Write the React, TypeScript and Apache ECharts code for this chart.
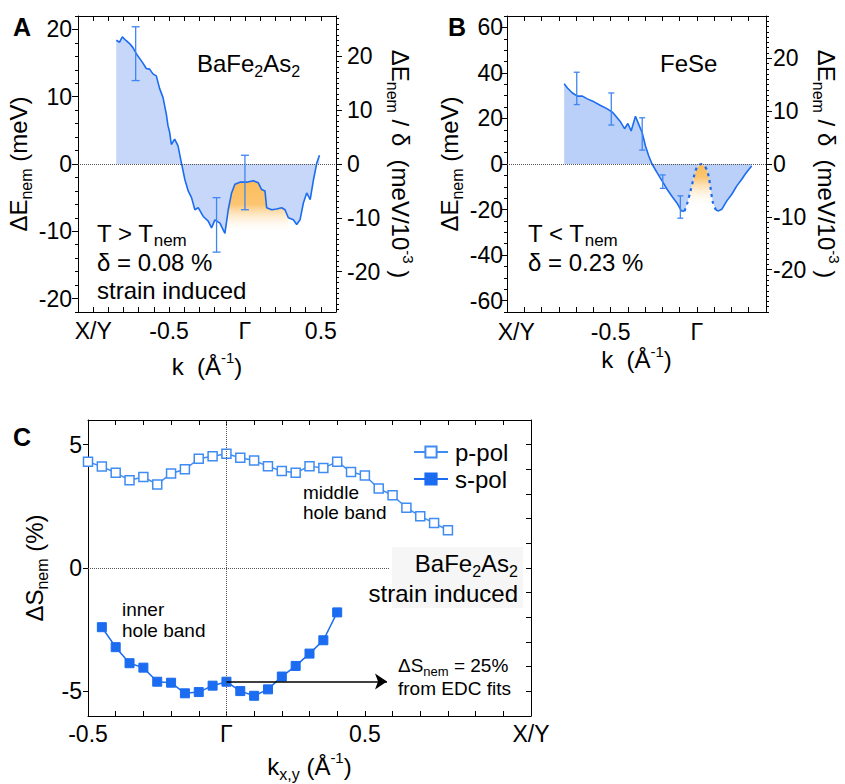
import React, { useEffect, useRef } from 'react';
import * as echarts from 'echarts';

// ---------- Panel A: BaFe2As2, T > Tnem, strain induced ----------
const aK = [-0.848,-0.826,-0.808,-0.786,-0.760,-0.738,-0.716,-0.694,-0.672,-0.650,-0.628,-0.606,-0.584,-0.562,-0.540,-0.518,-0.507,-0.496,-0.485,-0.463,-0.441,-0.419,-0.396,-0.374,-0.352,-0.330,-0.308,-0.275,-0.242,-0.220,-0.198,-0.165,-0.132,-0.110,-0.088,-0.066,-0.033,0.011,0.055,0.088,0.110,0.132,0.143,0.176,0.209,0.242,0.264,0.286,0.319,0.341,0.363,0.385,0.407,0.430,0.452,0.474,0.491];
const aVal = [18.4,18.1,18.9,18.4,17.9,17.3,16.4,15.7,15.0,14.2,14.1,13.4,13.1,11.2,9.9,7.4,5.7,4.7,2.9,3.7,2.7,0.2,-2.3,-4.0,-5.0,-6.8,-6.5,-7.8,-8.5,-9.5,-8.3,-8.8,-10.3,-6.8,-4.3,-3.0,-2.7,-2.7,-2.5,-2.8,-3.8,-4.0,-6.5,-6.8,-6.7,-6.5,-6.8,-8.0,-8.3,-9.0,-8.3,-5.8,-4.3,-5.3,-2.3,0.2,1.3];
const aErrK = [-0.72, -0.187, 0.0];
const aErrHi = [20.4, -5.0, 1.3];
const aErrLo = [12.4, -13.1, -6.8];
const aOrangeFrom = -0.132;
const aOrangeTo = 0.286;
const aOrangeFloor = -10;

// ---------- Panel B: FeSe, T < Tnem ----------
const bK = [-0.769,-0.750,-0.721,-0.692,-0.663,-0.635,-0.596,-0.558,-0.519,-0.490,-0.462,-0.442,-0.419,-0.400,-0.381,-0.356,-0.337,-0.317,-0.298,-0.279,-0.260,-0.231,-0.202,-0.173,-0.144,-0.115,-0.090,-0.072,-0.055,-0.039,-0.025,-0.016,0.000,0.026,0.045,0.058,0.068,0.077,0.092,0.110,0.125,0.144,0.173,0.202,0.231,0.260,0.279,0.298,0.317];
const bVal = [35.2,33.4,31.2,29.8,29.8,28.6,27.3,25.7,24.2,22.8,20.3,18.4,15.5,17.8,14.5,21.0,17.4,13.7,7.9,3.5,0.0,-3.8,-7.4,-11.1,-14.3,-17.2,-20.6,-20.7,-17.0,-12.4,-8.0,-5.1,-1.5,0.0,-1.0,-2.6,-5.5,-9.5,-16.8,-20.2,-20.6,-19.9,-16.2,-13.3,-9.6,-6.7,-4.5,-2.6,-0.9];
const bDashFrom = -0.072;
const bDashTo = 0.110;
const bErrK = [-0.696, -0.496, -0.317, -0.198, -0.096];
const bErrHi = [40.3, 31.2, 20.3, -4.8, -14.0];
const bErrLo = [26.1, 17.1, 6.1, -10.7, -23.8];
const bOrangeFrom = -0.055;
const bOrangeTo = 0.092;
const bOrangeFloor = -19;

// ---------- Panel C: ΔS_nem ----------
const pK = [-0.5,-0.45,-0.4,-0.35,-0.3,-0.25,-0.2,-0.15,-0.1,-0.05,0,0.05,0.1,0.15,0.2,0.25,0.3,0.35,0.4,0.45,0.5,0.55,0.6,0.65,0.7,0.75,0.8];
const pVal = [4.31,4.11,3.86,3.56,3.69,3.39,3.83,4.0,4.43,4.53,4.63,4.47,4.36,4.12,3.93,3.86,4.13,4.05,4.31,3.89,3.75,3.22,2.95,2.44,2.1,1.82,1.53];
const sK = [-0.45,-0.4,-0.35,-0.3,-0.25,-0.2,-0.15,-0.1,-0.05,0,0.05,0.1,0.15,0.2,0.25,0.3,0.35,0.4];
const sVal = [-2.40,-3.21,-3.86,-4.04,-4.61,-4.65,-5.08,-5.03,-4.77,-4.61,-4.99,-5.18,-4.92,-4.40,-3.97,-3.47,-2.93,-1.80];
const arrowY = -4.6;
const arrowFrom = 0;
const arrowTo = 0.58;
const cZeroLineEnd = 0.59;

// tick label sets
const aXLabels = [-1, -0.5, 0, 0.5];
const bXLabels = [-1, -0.5, 0];
const cXLabels = [-0.5, 0, 0.5, 1.1];
const aYLabels = [-20, -10, 0, 10, 20];
const aY2Labels = [-20, -10, 0, 10, 20];
const bYLabels = [-60, -40, -20, 0, 20, 40, 60];
const bY2Labels = [-20, -10, 0, 10, 20];
const cYLabels = [-5, 0, 5];

const FONT = '"Liberation Sans", Arial, Helvetica, sans-serif';
const BLUE = '#1b6cf0';
const PBLUE = '#3f8cf3';
const ERRC = '#3f86f0';
const FILL_A = '#c6d7fa';
const FILL_B = '#bad0f9';

const near = (a: number, b: number) => Math.abs(a - b) < 1e-6;
const kLabel = (v: number) => {
  if (near(v, -1) || near(v, 1.1)) return 'X/Y';
  if (near(v, -0.5)) return '-0.5';
  if (near(v, 0)) return 'Γ';
  if (near(v, 0.5)) return '0.5';
  return '';
};
const intRange = (a: number, b: number) => {
  const r: number[] = [];
  for (let v = a; v <= b; v++) r.push(v);
  return r;
};

const pairs = (ks: number[], vs: number[]) => ks.map((k, i) => [k, vs[i]]);

function errRender(cap: number) {
  return (params: any, api: any) => {
    const k = api.value(0);
    const lo = api.value(1);
    const hi = api.value(2);
    const t = api.coord([k, hi]);
    const b = api.coord([k, lo]);
    const style = { stroke: ERRC, lineWidth: 1.3, fill: 'none' };
    return {
      type: 'group',
      children: [
        { type: 'line', shape: { x1: t[0], y1: t[1], x2: b[0], y2: b[1] }, style },
        { type: 'line', shape: { x1: t[0] - cap, y1: t[1], x2: t[0] + cap, y2: t[1] }, style },
        { type: 'line', shape: { x1: b[0] - cap, y1: b[1], x2: b[0] + cap, y2: b[1] }, style },
      ],
    };
  };
}

function orangeRender(ks: number[], vs: number[], from: number, to: number, floor: number, solidStop: number) {
  return (params: any, api: any) => {
    const pts: number[][] = [];
    let first = NaN;
    let last = NaN;
    for (let i = 0; i < ks.length; i++) {
      if (ks[i] >= from - 1e-9 && ks[i] <= to + 1e-9) {
        pts.push(api.coord([ks[i], vs[i]]));
        if (isNaN(first)) first = ks[i];
        last = ks[i];
      }
    }
    pts.push(api.coord([last, floor]));
    pts.push(api.coord([first, floor]));
    return {
      type: 'polygon',
      shape: { points: pts },
      style: {
        fill: new echarts.graphic.LinearGradient(0, 0, 0, 1, [
          { offset: 0, color: 'rgba(252,188,90,1)' },
          { offset: solidStop, color: 'rgba(252,194,105,0.95)' },
          { offset: 1, color: 'rgba(255,255,255,0)' },
        ]),
      },
    };
  };
}

const tickFont = { fontSize: 23, fontFamily: FONT, color: '#000' };
const nameStyle = {
  fontSize: 24,
  fontFamily: FONT,
  color: '#000',
  lineHeight: 32,
  rich: {
    sub: { fontSize: 16, lineHeight: 16, verticalAlign: 'bottom', fontFamily: FONT, color: '#000' },
    sup: { fontSize: 15, lineHeight: 18, verticalAlign: 'top', fontFamily: FONT, color: '#000' },
  },
};
const axLine = { show: true, onZero: false, lineStyle: { color: '#000', width: 1 } };
const noLine = { show: false, onZero: false };

function xBottom(grid: number, min: number, max: number, labels: number[], name: string, nameGap: number, margin: number, extraRich?: any, fmt?: any) {
  return {
    type: 'value', gridIndex: grid, position: 'bottom', min, max, interval: 0.1,
    axisLine: axLine,
    axisTick: { show: true, inside: true, length: 5, lineStyle: { color: '#000' } },
    axisLabel: {
      show: true, customValues: labels, margin, ...tickFont,
      showMinLabel: true, showMaxLabel: true,
      formatter: fmt || kLabel,
      rich: extraRich,
    },
    splitLine: { show: false },
    name, nameLocation: 'middle', nameGap, nameTextStyle: nameStyle,
  };
}
function xTop(grid: number, min: number, max: number) {
  return {
    type: 'value', gridIndex: grid, position: 'top', min, max, interval: 0.1,
    axisLine: axLine,
    axisTick: { show: true, inside: true, length: 5, lineStyle: { color: '#000' } },
    axisLabel: { show: false },
    splitLine: { show: false },
  };
}

export default function App() {
  const ref = useRef<HTMLDivElement>(null);
  useEffect(() => {
    if (!ref.current) return;
    const chart = echarts.init(ref.current, undefined, { renderer: 'svg' });

    const bSolid = bK.map((k, i) => (k <= bDashFrom + 1e-9 || k >= bDashTo - 1e-9 ? [k, bVal[i]] : [k, '-']));
    const bDash = bK.map((k, i) => (k >= bDashFrom - 1e-9 && k <= bDashTo + 1e-9 ? [k, bVal[i]] : [k, '-']));

    const zeroMark = () => ({
      silent: true, symbol: ['none', 'none'], label: { show: false },
      lineStyle: { type: 'dotted', color: '#555', width: 1 },
      emphasis: { disabled: true },
      data: [{ yAxis: 0 }],
    });

    const option: any = {
      animation: false,
      backgroundColor: '#ffffff',
      textStyle: { fontFamily: FONT },
      grid: [
        { left: 78, top: 16, width: 258, height: 296 },
        { left: 507, top: 16, width: 259, height: 296 },
        { left: 88, top: 420, width: 443, height: 296 },
      ],
      xAxis: [
        xBottom(0, -1.1, 0.6, aXLabels, 'k  (Å{sup|-1})', 38, 7),
        xTop(0, -1.1, 0.6),
        xBottom(1, -1.1, 0.4, bXLabels, 'k  (Å{sup|-1})', 31, 8,
          { xy: { padding: [0, 16, 0, 0], fontSize: 23, fontFamily: FONT, color: '#000' } },
          (v: number) => (near(v, -1) ? '{xy|X/Y}' : kLabel(v))),
        xTop(1, -1.1, 0.4),
        xBottom(2, -0.5, 1.1, cXLabels, 'k{sub|x,y} (Å{sup|-1})', 34, 6),
        xTop(2, -0.5, 1.1),
      ],
      yAxis: [
        // 0: A left major
        {
          type: 'value', gridIndex: 0, position: 'left', min: -22, max: 22, interval: 2,
          axisLine: axLine,
          axisTick: { show: true, inside: false, length: 6, customValues: aYLabels, lineStyle: { color: '#000' } },
          axisLabel: { customValues: aYLabels, margin: 6, ...tickFont, formatter: (v: number) => (Math.abs(v % 10) < 1e-9 ? String(v) : '') },
          splitLine: { show: false },
          name: 'ΔE{sub|nem} (meV)', nameLocation: 'middle', nameGap: 34, nameRotate: 90, nameTextStyle: nameStyle,
        },
        // 1: A left minor
        {
          type: 'value', gridIndex: 0, position: 'left', min: -22, max: 22, interval: 2,
          axisLine: noLine, axisTick: { show: true, inside: false, length: 3, lineStyle: { color: '#000' } },
          axisLabel: { show: false }, splitLine: { show: false },
        },
        // 2: A right major
        {
          type: 'value', gridIndex: 0, position: 'right', min: -27.5, max: 27.5, interval: 2.5,
          axisLine: axLine,
          axisTick: { show: true, inside: false, length: 6, customValues: aY2Labels, lineStyle: { color: '#000' } },
          axisLabel: { customValues: aY2Labels, margin: 11, ...tickFont, formatter: (v: number) => (Math.abs(v % 10) < 1e-9 ? String(v) : '') },
          splitLine: { show: false },
          name: 'ΔE{sub|nem} / δ  (meV/10{sup|-3} )', nameLocation: 'middle', nameGap: 43, nameRotate: -90, nameTextStyle: nameStyle,
        },
        // 3: A right minor
        {
          type: 'value', gridIndex: 0, position: 'right', min: -27.5, max: 27.5, interval: 2.5,
          axisLine: noLine, axisTick: { show: true, inside: false, length: 3, customValues: intRange(-27, 27), lineStyle: { color: '#000' } },
          axisLabel: { show: false }, splitLine: { show: false },
        },
        // 4: B left major
        {
          type: 'value', gridIndex: 1, position: 'left', min: -65, max: 65, interval: 5,
          axisLine: axLine,
          axisTick: { show: true, inside: false, length: 6, customValues: bYLabels, lineStyle: { color: '#000' } },
          axisLabel: { customValues: bYLabels, margin: 4, ...tickFont, formatter: (v: number) => (Math.abs(v % 20) < 1e-9 ? String(v) : '') },
          splitLine: { show: false },
          name: 'ΔE{sub|nem} (meV)', nameLocation: 'middle', nameGap: 38, nameRotate: 90, nameTextStyle: nameStyle,
        },
        // 5: B left minor
        {
          type: 'value', gridIndex: 1, position: 'left', min: -65, max: 65, interval: 5,
          axisLine: noLine, axisTick: { show: true, inside: false, length: 3, lineStyle: { color: '#000' } },
          axisLabel: { show: false }, splitLine: { show: false },
        },
        // 6: B right major
        {
          type: 'value', gridIndex: 1, position: 'right', min: -28, max: 28, interval: 1,
          axisLine: axLine,
          axisTick: { show: true, inside: false, length: 6, customValues: bY2Labels, lineStyle: { color: '#000' } },
          axisLabel: { customValues: bY2Labels, margin: 7, ...tickFont, formatter: (v: number) => (Math.abs(v % 10) < 1e-9 ? String(v) : '') },
          splitLine: { show: false },
          name: 'ΔE{sub|nem} / δ  (meV/10{sup|-3} )', nameLocation: 'middle', nameGap: 44, nameRotate: -90, nameTextStyle: nameStyle,
        },
        // 7: B right minor
        {
          type: 'value', gridIndex: 1, position: 'right', min: -28, max: 28, interval: 1,
          axisLine: noLine, axisTick: { show: true, inside: false, length: 3, lineStyle: { color: '#000' } },
          axisLabel: { show: false }, splitLine: { show: false },
        },
        // 8: C left
        {
          type: 'value', gridIndex: 2, position: 'left', min: -6, max: 6, interval: 1,
          axisLine: axLine,
          axisTick: { show: true, inside: false, length: 5, customValues: cYLabels, lineStyle: { color: '#000' } },
          axisLabel: { customValues: cYLabels, margin: 6, ...tickFont, formatter: (v: number) => (Math.abs(v % 5) < 1e-9 ? String(v) : '') },
          splitLine: { show: false },
          name: 'ΔS{sub|nem} (%)', nameLocation: 'middle', nameGap: 38, nameRotate: 90, nameTextStyle: nameStyle,
        },
        // 9: C right
        {
          type: 'value', gridIndex: 2, position: 'right', min: -6, max: 6, interval: 1,
          axisLine: axLine,
          axisTick: { show: true, inside: true, length: 5, lineStyle: { color: '#000' } },
          axisLabel: { show: false }, splitLine: { show: false },
        },
      ],
      legend: {
        data: ['p-pol', 's-pol'],
        orient: 'vertical',
        left: 408,
        top: 435,
        itemWidth: 34,
        itemHeight: 14,
        itemGap: 3,
        textStyle: { fontSize: 24, fontFamily: FONT, color: '#000', padding: [0, 0, 0, 2] },
        selectedMode: false,
      },
      series: [
        // Panel A
        {
          name: 'A', type: 'line', xAxisIndex: 0, yAxisIndex: 0, data: pairs(aK, aVal),
          showSymbol: false, symbol: 'none', z: 4,
          lineStyle: { color: BLUE, width: 1.6 },
          areaStyle: { color: FILL_A, opacity: 1 },
          markLine: zeroMark(),
        },
        {
          name: 'A-orange', type: 'custom', xAxisIndex: 0, yAxisIndex: 0, z: 3,
          data: [[aOrangeFrom, aOrangeFloor]],
          renderItem: orangeRender(aK, aVal, aOrangeFrom, aOrangeTo, aOrangeFloor, 0.45),
        },
        {
          name: 'A-err', type: 'custom', xAxisIndex: 0, yAxisIndex: 0, z: 5,
          data: aErrK.map((k, i) => [k, aErrLo[i], aErrHi[i]]),
          encode: { x: 0, y: [1, 2] },
          renderItem: errRender(4),
        },
        // Panel B
        {
          name: 'B-fill', type: 'line', xAxisIndex: 2, yAxisIndex: 4, data: pairs(bK, bVal),
          showSymbol: false, symbol: 'none', z: 2,
          lineStyle: { width: 0, opacity: 0 },
          areaStyle: { color: FILL_B, opacity: 1 },
          markLine: zeroMark(),
        },
        {
          name: 'B-orange', type: 'custom', xAxisIndex: 2, yAxisIndex: 4, z: 3,
          data: [[bOrangeFrom, bOrangeFloor]],
          renderItem: orangeRender(bK, bVal, bOrangeFrom, bOrangeTo, bOrangeFloor, 0.3),
        },
        {
          name: 'B-solid', type: 'line', xAxisIndex: 2, yAxisIndex: 4, data: bSolid,
          showSymbol: false, symbol: 'none', z: 4, connectNulls: false,
          lineStyle: { color: BLUE, width: 1.6 },
        },
        {
          name: 'B-dash', type: 'line', xAxisIndex: 2, yAxisIndex: 4, data: bDash,
          showSymbol: false, symbol: 'none', z: 4, connectNulls: false, smooth: 0.3,
          lineStyle: { color: BLUE, width: 2.2, type: [3, 4] },
        },
        {
          name: 'B-err', type: 'custom', xAxisIndex: 2, yAxisIndex: 4, z: 5,
          data: bErrK.map((k, i) => [k, bErrLo[i], bErrHi[i]]),
          encode: { x: 0, y: [1, 2] },
          renderItem: errRender(3),
        },
        // Panel C
        {
          name: 'p-pol', type: 'line', xAxisIndex: 4, yAxisIndex: 8, data: pairs(pK, pVal),
          symbol: 'rect', symbolSize: 9, showSymbol: true, z: 4,
          lineStyle: { color: PBLUE, width: 1.5 },
          itemStyle: { color: '#ffffff', borderColor: PBLUE, borderWidth: 1.5 },
          markLine: {
            silent: true, symbol: ['none', 'none'], label: { show: false },
            lineStyle: { type: 'dotted', color: '#555', width: 1 },
            data: [
              { xAxis: 0 },
              [{ coord: [-0.5, 0] }, { coord: [cZeroLineEnd, 0] }],
            ],
          },
        },
        {
          name: 's-pol', type: 'line', xAxisIndex: 4, yAxisIndex: 8, data: pairs(sK, sVal),
          symbol: 'rect', symbolSize: 9, showSymbol: true, z: 4,
          lineStyle: { color: BLUE, width: 1.5 },
          itemStyle: { color: BLUE, borderColor: BLUE, borderWidth: 1 },
          markLine: {
            silent: true, symbol: ['none', 'arrow'], symbolSize: 12, label: { show: false },
            lineStyle: { type: 'solid', color: '#000', width: 1.6 },
            itemStyle: { color: '#000' },
            data: [[{ coord: [arrowFrom, arrowY] }, { coord: [arrowTo, arrowY] }]],
          },
        },
      ],
      graphic: [],
    };

    const sub = (size: number) => ({ fontSize: size, lineHeight: size, verticalAlign: 'bottom', fontFamily: FONT, fill: '#000' });
    const txt = (text: string, x: number, y: number, size: number, opts: any = {}) => ({
      type: 'text', x, y, z: 100,
      style: {
        text, fontSize: size, fontFamily: FONT, fontWeight: opts.bold ? 'bold' : 'normal', fill: '#000',
        align: opts.align || 'left', textAlign: opts.align || 'left',
        verticalAlign: 'middle', textVerticalAlign: 'middle',
        lineHeight: opts.lh || Math.round(size * 1.3),
        rich: { sub: sub(opts.sub || Math.round(size * 0.68)) },
      },
    });

    option.graphic = [
      { type: 'rect', x: 392, y: 547, z: 1, shape: { width: 131, height: 61 }, style: { fill: '#f6f6f6' } },
      txt('A', 13, 27, 25, { bold: true }),
      txt('B', 448, 27, 25, { bold: true }),
      txt('C', 13, 437, 25, { bold: true }),
      txt('BaFe{sub|2}As{sub|2}', 197, 63, 24, { lh: 32, sub: 16 }),
      txt('T > T{sub|nem}', 97, 233, 24, { lh: 32, sub: 17 }),
      txt('δ = 0.08 %', 97, 262, 24),
      txt('strain induced', 97, 290, 24),
      txt('FeSe', 660, 63, 24),
      txt('T < T{sub|nem}', 528, 233, 24, { lh: 32, sub: 17 }),
      txt('δ = 0.23 %', 528, 262, 24),
      txt('BaFe{sub|2}As{sub|2}', 518, 563, 24, { lh: 32, sub: 16, align: 'right' }),
      txt('strain induced', 518, 593, 24, { align: 'right' }),
      txt('middle', 303, 492, 19),
      txt('hole band', 303, 512, 19),
      txt('inner', 122, 609, 19),
      txt('hole band', 122, 630, 19),
      txt('ΔS{sub|nem} = 25%', 398, 665, 19, { lh: 26, sub: 13 }),
      txt('from EDC fits', 398, 688, 19),
    ];

    chart.setOption(option);
    return () => chart.dispose();
  }, []);

  return <div ref={ref} style={{ position: 'absolute', left: 0, top: 0, width: 845, height: 784 }} />;
}
